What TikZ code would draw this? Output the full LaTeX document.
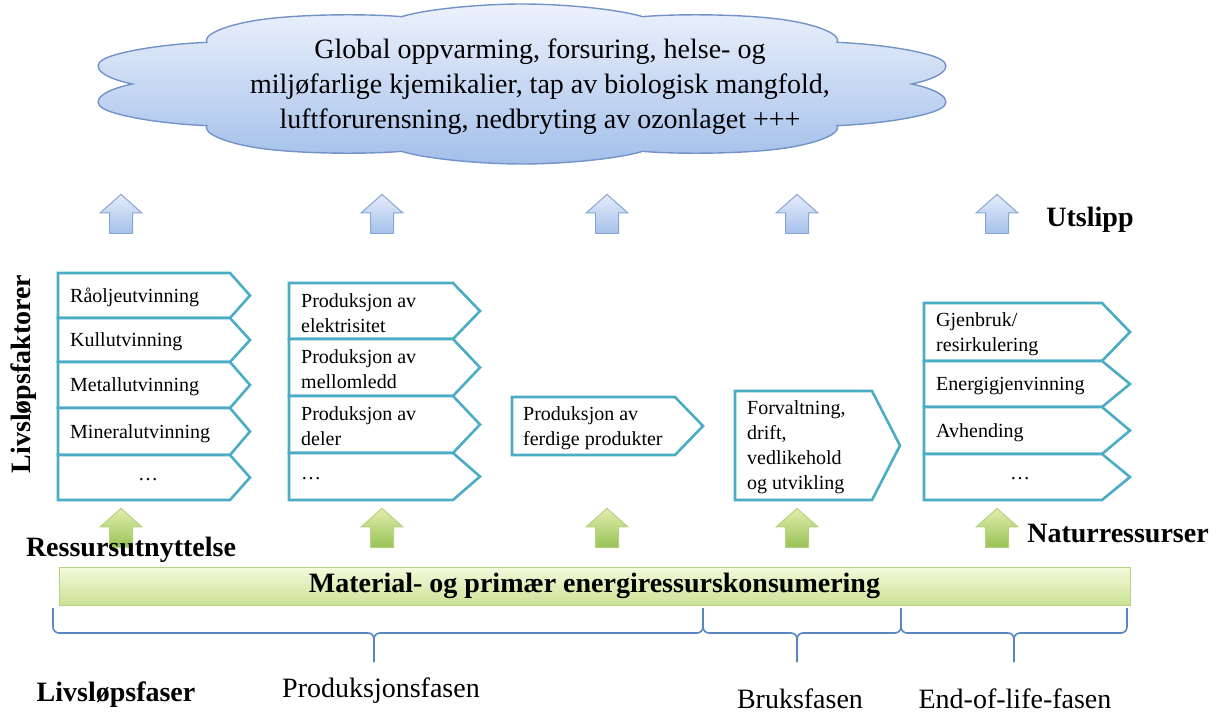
\documentclass[tikz,border=0pt]{standalone}
\usepackage{fontspec}
\setmainfont{Liberation Serif}
\usetikzlibrary{shapes.symbols,shapes.arrows}

\definecolor{stageblue}{HTML}{4BACC6}
\definecolor{cloudline}{HTML}{7393C8}
\definecolor{cloudtop}{HTML}{EDF2FC}
\definecolor{cloudbot}{HTML}{A3BFEA}
\definecolor{uptop}{HTML}{E4ECFA}
\definecolor{upbot}{HTML}{A6C1EC}
\definecolor{upline}{HTML}{8AA6D2}
\definecolor{greentop}{HTML}{E3EEB0}
\definecolor{greenbot}{HTML}{98C255}
\definecolor{greenline}{HTML}{B5D27F}
\definecolor{bartop}{HTML}{F4FADC}
\definecolor{barbot}{HTML}{CBE296}
\definecolor{braceblue}{HTML}{5A86BF}

\tikzset{
  bigtext/.style={font=\fontsize{28}{35}\selectfont, inner sep=0pt},
  boldlabel/.style={font=\fontsize{28}{34}\selectfont\bfseries, inner sep=0pt},
  stageline/.style={draw=stageblue, line width=2.6pt, fill=white, line join=miter},
  stagetext/.style={font=\fontsize{20}{25}\selectfont, align=left, inner sep=0pt, anchor=west, yshift=-2pt},
  blockarrow/.style={single arrow, shape border rotate=90, inner sep=11pt,
    minimum height=39pt, minimum width=41pt, single arrow head extend=9.5pt,
    single arrow tip angle=97, line width=1pt},
  emitarrow/.style={blockarrow, draw=upline, top color=uptop, bottom color=upbot},
  resarrow/.style={blockarrow, draw=greenline, top color=greentop, bottom color=greenbot},
  braceline/.style={draw=braceblue, line width=1.6pt, rounded corners=6pt}
}

% one row of a phase column: name, left, top, bottom, flat end, tip, text x, text
\newcommand\stagerow[8]{%
  \draw[stageline] (#2,#3) -- (#5,#3) -- (#6,{(#3+#4)/2}) -- (#5,#4) -- (#2,#4) -- cycle;
  \node[stagetext] (#1) at (#7,{(#3+#4)/2}) {#8};
}

% curly brace under the bar: left, tip, right
\newcommand\phasebrace[3]{%
  \draw[braceline] (#1,608) -- (#1,633) -- (#2,633) -- (#2,662);
  \draw[braceline] (#3,608) -- (#3,633) -- (#2,633) -- (#2,662);
}

\begin{document}
\begin{tikzpicture}[x=1pt,y=-1pt]
\useasboundingbox (0,0) rectangle (1218,715);

% impacts
\begin{scope}[shift={(522,84)}, xscale=5.5]
\node[cloud, transform shape, cloud puffs=10, cloud puff arc=120, cloud ignores aspect,
  minimum width=160pt, minimum height=160pt, draw=cloudline, line width=1.4pt,
  top color=cloudtop, bottom color=cloudbot] (impact) at (0,0) {};
\end{scope}
\node[bigtext, align=center] (impacttext) at (540,87)
  {Global oppvarming, forsuring, helse- og\\
   miljøfarlige kjemikalier, tap av biologisk mangfold,\\
   luftforurensning, nedbryting av ozonlaget +++};

% arrows out and in
\foreach \x [count=\i] in {121,382,607,797,997}
{
	\node[emitarrow] (out\i) at (\x,219) {};
	\node[resarrow] (in\i) at (\x,533) {};
}

\node[boldlabel] (emission) at (1090,220) {Utslipp};
\node[boldlabel] (resources) at (1118,533) {Naturressurser};
\node[boldlabel] (usage) at (131,550) {Ressursutnyttelse};
\node[boldlabel, rotate=90] (factors) at (24,374) {Livsløpsfaktorer};

% extraction
\foreach \n/\t/\b/\s in {rawoil/273/318/Råoljeutvinning,coal/318/362/Kullutvinning,
  metal/362/408/Metallutvinning,mineral/408/455/Mineralutvinning}
{
	\stagerow{\n}{58}{\t}{\b}{230}{250}{70}{\s}
}
\stagerow{extractmore}{58}{455}{500}{230}{250}{138}{…}

% production
\stagerow{power}{289}{283}{339}{453}{480}{301}{Produksjon av\\elektrisitet}
\stagerow{intermediate}{289}{339}{396}{453}{480}{301}{Produksjon av\\mellomledd}
\stagerow{parts}{289}{396}{453}{453}{480}{301}{Produksjon av\\deler}
\stagerow{producemore}{289}{453}{500}{453}{480}{301}{…}

\stagerow{finished}{512}{397}{455}{675}{703}{523}{Produksjon av\\ferdige produkter}

% use
\stagerow{operation}{735}{391}{500}{872}{900}{747}{Forvaltning,\\drift,\\vedlikehold\\og utvikling}

% end of life
\stagerow{reuse}{924}{303}{361}{1102}{1130}{936}{Gjenbruk/\\resirkulering}
\stagerow{recovery}{924}{361}{407}{1102}{1130}{936}{Energigjenvinning}
\stagerow{disposal}{924}{407}{454}{1102}{1130}{936}{Avhending}
\stagerow{endmore}{924}{454}{500}{1102}{1130}{1010}{…}

% consumption bar
\node[boldlabel, draw=greenline, line width=0.8pt, top color=bartop, bottom color=barbot,
  minimum width=1071pt, minimum height=38pt] (consumption) at (594.5,586)
  {Material- og primær energiressurskonsumering};

% phases
\phasebrace{53}{374}{703}
\phasebrace{703}{797}{901}
\phasebrace{901}{1014}{1127}

\node[boldlabel] (phases) at (116,695) {Livsløpsfaser};
\node[bigtext] (production) at (381,691) {Produksjonsfasen};
\node[bigtext] (usephase) at (800,699) {Bruksfasen};
\node[bigtext] (endoflife) at (1015,699) {End-of-life-fasen};
\end{tikzpicture}
\end{document}
